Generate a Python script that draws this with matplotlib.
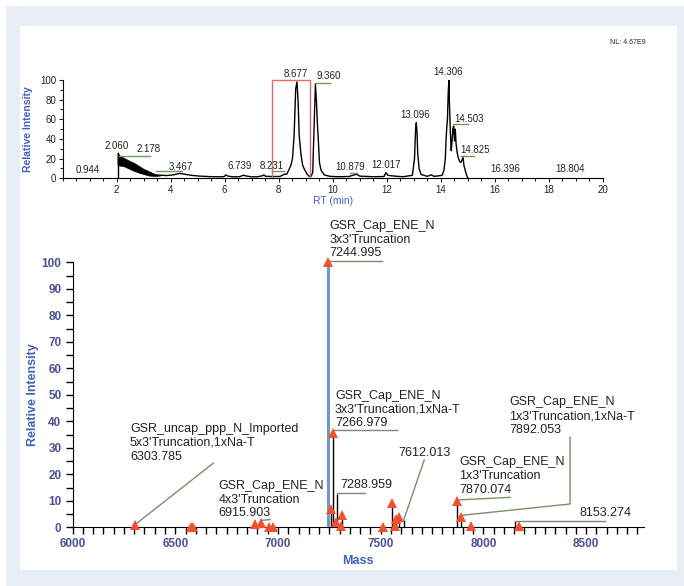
import matplotlib.pyplot as plt
from matplotlib.patches import Rectangle
from matplotlib.ticker import MultipleLocator

plt.rcParams['font.family'] = ['Liberation Sans', 'DejaVu Sans']

# ---- chromatogram (top) ----
rt_trace = [3.6, 3.85, 4.1, 4.33, 4.55, 4.83, 5.1, 5.45, 5.85, 5.98, 6.05, 6.12, 6.3, 6.55,
            6.7, 6.78, 7.0, 7.2, 7.4, 7.45, 7.52, 7.8, 8.05, 8.2, 8.3, 8.39, 8.45, 8.51, 8.57,
            8.63, 8.677, 8.72, 8.76, 8.83, 8.89, 8.95, 9.05, 9.13, 9.2, 9.26, 9.30,
            9.36, 9.40, 9.43, 9.46, 9.51, 9.57, 9.69, 9.9, 10.2, 10.6, 10.8, 10.9, 11.0,
            11.5, 11.9, 11.97, 12.05, 12.3, 12.6, 12.95, 13.03, 13.07, 13.096, 13.12,
            13.15, 13.2, 13.27, 13.5, 13.65, 13.75, 13.9, 14.05, 14.12, 14.17, 14.2, 14.22,
            14.25, 14.28, 14.306, 14.32, 14.34, 14.36, 14.39, 14.42, 14.45, 14.48, 14.51,
            14.54, 14.57, 14.61, 14.65, 14.7, 14.75, 14.8, 14.83, 14.86, 14.9, 14.95, 15.0]
int_trace = [3.2, 2.8, 3.5, 5.0, 4.0, 2.8, 2.2, 1.7, 1.5, 1.8, 3.5, 2.2, 1.5, 1.6,
             3.2, 2.4, 1.5, 1.5, 2.6, 3.4, 2.0, 1.8, 1.9, 4.0, 4.3, 9.4, 13, 20, 43,
             91, 98, 77, 43, 23, 13, 9.4, 4.3, 2.0, 2.0, 6, 43,
             96, 77, 57, 43, 16, 8, 3.4, 2.0, 1.6, 1.8, 3.5, 4.0, 2.2,
             1.6, 1.8, 5.8, 3.0, 2.2, 1.6, 3, 20, 50, 56.6, 48,
             25, 10, 4, 2.0, 3.5, 2.0, 2.4, 3.0, 8, 20, 40, 50,
             60, 88, 100.5, 80, 62, 45, 28, 38, 51, 53, 38,
             50, 35, 26, 21, 17, 16, 19.5, 21, 13, 9, 4, 0.5]

# noisy start of the run, drawn as an envelope
rt_band = [2.03, 2.1, 2.25, 2.45, 2.65, 2.85, 3.0, 3.2, 3.4, 3.6]
band_hi = [26, 23, 21, 18, 15.5, 12, 9.5, 7, 4.5, 3.5]
band_lo = [14, 13, 12.5, 10, 7.5, 5.5, 4.4, 2.8, 2.5, 2.8]

peak_labels = ['0.944', '2.060', '2.178', '3.467', '6.739', '8.231', '8.677', '9.360',
               '10.879', '12.017', '13.096', '14.306', '14.503', '14.825', '16.396', '18.804']
# label placement (rt centre, baseline intensity)
label_x = [0.944, 2.0, 3.2, 4.39, 6.55, 7.73, 8.65, 9.86, 10.64, 11.98, 13.05, 14.28,
           15.04, 15.26, 16.38, 18.79]
label_y = [5.0, 29.5, 26.4, 8.4, 9.1, 9.1, 102.7, 100.7, 8.4, 10.2, 61, 105, 57, 25.4, 6.7, 6.7]
# short leader lines (x0, x1, y)
top_leaders = [(2.1, 3.25, 23), (3.45, 4.41, 7.4), (7.74, 8.19, 7.4), (9.35, 9.9, 97.3),
               (10.64, 10.89, 5.7), (14.47, 15.02, 54.9), (14.75, 15.24, 22.7)]

# ---- deconvoluted spectrum (bottom) ----
mass = [6303.8, 6575, 6586, 6888, 6915.9, 6956, 6975, 7245.0, 7260, 7267.0, 7281, 7289.0,
        7305, 7310, 7513, 7554, 7570, 7573, 7591, 7612.0, 7870.1, 7892.1, 7938, 8153.3, 8175]
intensity = [0.8, 0.3, 0.3, 1.2, 1.5, 0.3, 0.3, 100, 7.0, 35.5, 2.1, 12.5,
             0.6, 4.5, 0.2, 9.0, 0.6, 3.1, 3.8, 2.8, 9.9, 4.0, 0.5, 2.4, 0.5]
flagged = [1, 1, 1, 1, 1, 1, 1, 1, 1, 1, 1, 0, 1, 1, 1, 1, 1, 1, 1, 0, 1, 1, 1, 0, 1]

fig = plt.figure(figsize=(6.84, 5.86), dpi=100, facecolor='white')
fig.patches.append(Rectangle((6 / 684, 0), 678 / 684, 580 / 586, transform=fig.transFigure,
                             facecolor='#e8edf6', edgecolor='none', zorder=-11))
fig.patches.append(Rectangle((20 / 684, 16 / 586), 657 / 684, 544 / 586, transform=fig.transFigure,
                             facecolor='white', edgecolor='none', zorder=-10))

# top axes
ax1 = fig.add_axes([62.7 / 684, 407.7 / 586, 540 / 684, 98.3 / 586])
ax1.patch.set_alpha(0)
ax1.fill_between(rt_band, band_lo, band_hi, color='black', lw=0.6)
ax1.plot([2.03, 2.03], [0, 26], color='black', lw=1.0)
ax1.plot([rt_band[-1]] + rt_trace, [3.2] + int_trace, color='black', lw=1.0)
ax1.plot([7.74, 7.74, 9.16, 9.16], [0, 100, 100, 0], color='#e86a6a', lw=1.0, clip_on=False)
for lab, x, y in zip(peak_labels, label_x, label_y):
    ax1.text(x, y - 2, lab, ha='center', va='bottom', fontsize=7, color='#222222', clip_on=False)
for x0, x1, y in top_leaders:
    ax1.plot([x0, x1], [y, y], color='#6f9a55', lw=1.0, clip_on=False)
ax1.set_xlim(0, 20)
ax1.set_ylim(0, 100)
ax1.xaxis.set_minor_locator(MultipleLocator(0.5))
ax1.yaxis.set_major_locator(MultipleLocator(20))
ax1.yaxis.set_minor_locator(MultipleLocator(10))
ax1.set_xticks(range(2, 21, 2))
ax1.tick_params(which='both', labelsize=7, colors='#222222', length=3, width=0.8, pad=1.5)
ax1.tick_params(which='minor', length=2)
for s in ['top', 'right']:
    ax1.spines[s].set_visible(False)
ax1.set_xlabel('RT (min)', fontsize=7.5, color='#4460c0', labelpad=1)
ax1.set_ylabel('Relative Intensity', fontsize=7.5, color='#4460c0', fontweight='bold', labelpad=5)
fig.text(610 / 684, 1 - 42 / 586, 'NL: 4.67E9', fontsize=5, color='#222222', va='center')

# bottom axes
ax2 = fig.add_axes([72.6 / 684, 58.7 / 586, 571 / 684, 265 / 586])
ax2.patch.set_alpha(0)
for m, h in zip(mass, intensity):
    if m == 7245.0:
        ax2.vlines(m, 0, h, color='#6b9ac6', lw=2.2, zorder=2)
    else:
        ax2.vlines(m, 0, h, color='black', lw=1.0, zorder=2)
tri_m = [m for m, f in zip(mass, flagged) if f]
tri_h = [h for h, f in zip(intensity, flagged) if f]
ax2.plot(tri_m, tri_h, linestyle='none', marker='^', markersize=6.5, color='#f0502c',
         markeredgewidth=0, zorder=3, clip_on=False)

lead = '#7b8d6c'
tkw = dict(fontsize=9, color='#222222', ha='left', va='bottom', linespacing=1.2, clip_on=False)
ax2.text(7250, 101.1, "GSR_Cap_ENE_N\n3x3'Truncation\n7244.995", **tkw)
ax2.plot([7245, 7505], [100.6, 100.6], color=lead, lw=1, clip_on=False)
ax2.text(7277, 37, "GSR_Cap_ENE_N\n3x3'Truncation,1xNa-T\n7266.979", **tkw)
ax2.plot([7267, 7578], [36.7, 36.7], color=lead, lw=1)
ax2.text(7302, 13.7, '7288.959', **tkw)
ax2.plot([7289, 7424], [12.8, 12.8], color=lead, lw=1)
ax2.text(7586, 25.9, '7612.013', **tkw)
ax2.plot([7612, 7712], [2.8, 25.4], color=lead, lw=1)
ax2.text(7881, 11.8, "GSR_Cap_ENE_N\n1x3'Truncation\n7870.074", **tkw)
ax2.plot([7870, 8130], [10.3, 11.3], color=lead, lw=1)
ax2.text(8125, 34.5, "GSR_Cap_ENE_N\n1x3'Truncation,1xNa-T\n7892.053", **tkw)
ax2.plot([7892, 8422, 8422], [4.5, 8.8, 34], color=lead, lw=1)
ax2.text(8467, 3.0, '8153.274', **tkw)
ax2.plot([8153, 8592], [2.5, 2.5], color=lead, lw=1)
ax2.text(6279, 24.4, "GSR_uncap_ppp_N_Imported\n5x3'Truncation,1xNa-T\n6303.785", **tkw)
ax2.plot([6304, 6685], [1, 24.2], color=lead, lw=1)
ax2.text(6709, 3.0, "GSR_Cap_ENE_N\n4x3'Truncation\n6915.903", **tkw)
ax2.plot([6916, 6962], [2.6, 2.9], color=lead, lw=1)

ax2.set_xlim(6000, 8780)
ax2.set_ylim(0, 100)
ax2.xaxis.set_major_locator(MultipleLocator(500))
ax2.xaxis.set_minor_locator(MultipleLocator(50))
ax2.yaxis.set_major_locator(MultipleLocator(10))
ax2.yaxis.set_minor_locator(MultipleLocator(5))
ax2.tick_params(which='both', labelsize=8.5, labelcolor='#4b5394', length=5, width=1.0, pad=3)
for lab in ax2.get_xticklabels() + ax2.get_yticklabels():
    lab.set_fontweight('bold')
for s in ['top', 'right']:
    ax2.spines[s].set_visible(False)
ax2.set_xlabel('Mass', fontsize=9, color='#4462bb', fontweight='bold', labelpad=3)
ax2.set_ylabel('Relative Intensity', fontsize=9, color='#4462bb', fontweight='bold', labelpad=2)

fig.savefig('out.png', dpi=100, facecolor=fig.get_facecolor())
